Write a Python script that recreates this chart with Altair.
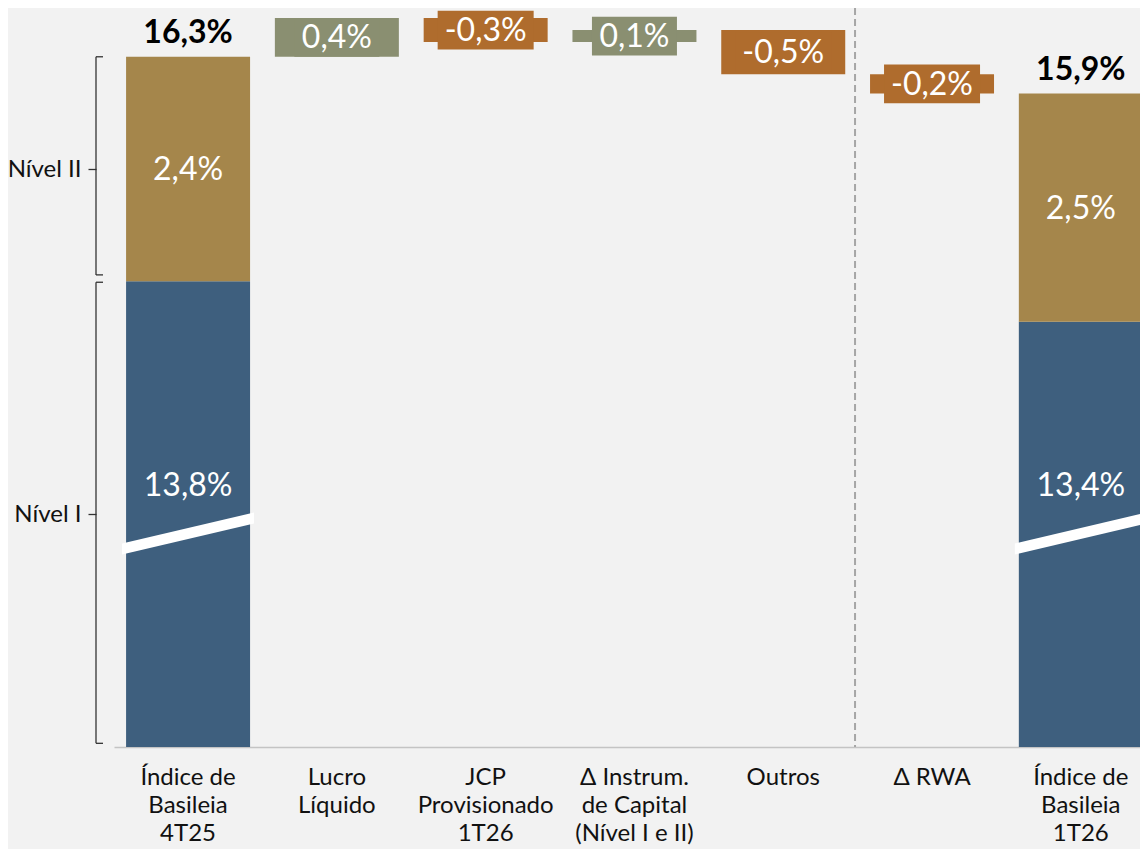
import altair as alt
import pandas as pd

# ---------------- data ----------------
categories = ["Índice de|Basileia|4T25", "Lucro|Líquido", "JCP|Provisionado|1T26",
              "Δ Instrum.|de Capital|(Nível I e II)", "Outros", "Δ RWA",
              "Índice de|Basileia|1T26"]
nivel1 = [13.83, 13.39]          # Nível I  (start, end)
nivel2 = [2.44, 2.48]            # Nível II (start, end)
deltas = [0.42, -0.26, 0.13, -0.48, -0.21]
tier_names = ["Nível I", "Nível II"]

# ---------------- style / layout constants ----------------
FONT = "Lato"
BG = "#f2f2f2"
BLUE, GOLD, GREEN, ORANGE = "#3e5f7e", "#a5864b", "#8a8f71", "#af6c2d"
Y_MIN, Y_MAX = 8.77, 16.80
BREAK_MID = 11.09
BOX_HALF = 0.21
SLASH = "M-1,0.152L1,-0.318L1,-0.152L-1,0.318Z"


def fmt(v):
    return f"{v:.1f}".replace(".", ",") + "%"


# totals
tot = pd.DataFrame({
    "cat": [categories[0], categories[-1]],
    "n1": nivel1,
    "n2": nivel2,
})
tot["total"] = tot["n1"] + tot["n2"]
tot["mid2"] = (tot["n1"] + tot["total"]) / 2
tot["l1"] = tot["n1"].map(fmt)
tot["l2"] = tot["n2"].map(fmt)
tot["lt"] = tot["total"].map(fmt)
tot["brk"] = BREAK_MID
tot["floor"] = Y_MIN

# deltas
rows = []
level = tot["total"].iloc[0]
for c, d in zip(categories[1:-1], deltas):
    start, end = level, level + d
    mid = (start + end) / 2
    rows.append({"cat": c, "start": start, "end": end, "mid": mid,
                 "lo": mid - BOX_HALF, "hi": mid + BOX_HALF,
                 "sign": "pos" if d >= 0 else "neg", "label": fmt(d),
                 "boxw": 96 if d < 0 else 85})
    level = end
dl = pd.DataFrame(rows)

# braces
n1s, tots = nivel1[0], tot["total"].iloc[0]
braces = pd.DataFrame({
    "name": tier_names,
    "top": [n1s - 0.01, tots],
    "bot": [Y_MIN + 0.04, n1s + 0.07],
})
ends = pd.DataFrame({"y": list(braces["top"]) + list(braces["bot"])})
ticks = [(n1s + Y_MIN) / 2, (tots + n1s) / 2]

ysc = alt.Scale(domain=[Y_MIN, Y_MAX], nice=False, zero=False)
yax = alt.Axis(values=ticks, domain=False, grid=False, offset=18,
               tickSize=8, tickColor="#333333", tickWidth=1.3,
               labelFont=FONT, labelFontSize=24, labelColor="#111111",
               labelPadding=7,
               labelExpr=f"datum.value > {n1s} ? '{tier_names[1]}' : '{tier_names[0]}'")


def Y(field):
    return alt.Y(field, scale=ysc, axis=yax, title=None)


xenc = alt.X("cat:N", sort=categories, title=None,
             scale=alt.Scale(range=[0, 1034], paddingInner=0.1667, paddingOuter=0.058,
                             align=0.7, round=False),
             axis=alt.Axis(labelExpr="split(datum.label, '|')", labelAngle=0,
                           labelFont=FONT, labelFontSize=24, labelColor="#111111",
                           labelLineHeight=28, labelPadding=18, ticks=False,
                           domainColor="#c4c4c4", domainWidth=1.5, labelLimit=0))

base_tot = alt.Chart(tot)
txt = dict(font=FONT, fontSize=32, baseline="alphabetic", align="center")

blue = base_tot.mark_bar(color=BLUE).encode(x=xenc, y=Y("n1:Q"), y2="floor:Q")
gold = base_tot.mark_bar(color=GOLD).encode(x=xenc, y=Y("total:Q"), y2="n1:Q")
slash = base_tot.mark_point(shape=SLASH, filled=True, color="white", opacity=1,
                            size=17424, strokeWidth=0).encode(x=xenc, y=Y("brk:Q"))
lab1 = base_tot.mark_text(color="white", dy=-37, **txt).encode(
    x=xenc, y=Y("brk:Q"), text="l1:N")
lab2 = base_tot.mark_text(color="white", dy=11, **txt).encode(
    x=xenc, y=Y("mid2:Q"), text="l2:N")
labt = base_tot.mark_text(color="#000000", fontWeight="bold", dy=-14, **txt).encode(
    x=xenc, y=Y("total:Q"), text="lt:N")

cscale = alt.Scale(domain=["pos", "neg"], range=[GREEN, ORANGE])
base_d = alt.Chart(dl)
dbar = base_d.mark_bar().encode(
    x=xenc, y=Y("start:Q"), y2="end:Q",
    color=alt.Color("sign:N", scale=cscale, legend=None))
dbox = base_d.mark_bar().encode(
    x=xenc, y=Y("lo:Q"), y2="hi:Q",
    size=alt.Size("boxw:Q", scale=None, legend=None),
    color=alt.Color("sign:N", scale=cscale, legend=None))
dtext = base_d.mark_text(color="white", dy=11, **txt).encode(
    x=xenc, y=Y("mid:Q"), text="label:N")

sep = alt.Chart(pd.DataFrame({"cat": [categories[5]], "top": [Y_MAX], "bot": [Y_MIN]})).mark_rule(
    color="#a6a6a6", strokeWidth=2, strokeDash=[7, 4], xOffset=-77).encode(
    x=xenc, y=Y("top:Q"), y2="bot:Q")

# braces next to the y axis
brace = alt.Chart(braces).mark_rule(color="#333333", strokeWidth=1.3).encode(
    x=alt.value(-18), y=Y("top:Q"), y2="bot:Q")
hooks = alt.Chart(ends).mark_rule(color="#333333", strokeWidth=1.3).encode(
    x=alt.value(-18), x2=alt.value(-11), y=Y("y:Q"))

chart = alt.layer(
    sep, blue, gold, slash, lab1, lab2, labt, dbar, dbox, dtext, brace, hooks
).properties(
    width=1026, height=739, background=BG,
    padding={"left": 106, "top": 0, "right": 0, "bottom": 102},
    autosize=alt.AutoSizeParams(type="none"),
).configure_view(stroke=None)

chart.save("out.html", embed_options={"renderer": "svg", "actions": False})
